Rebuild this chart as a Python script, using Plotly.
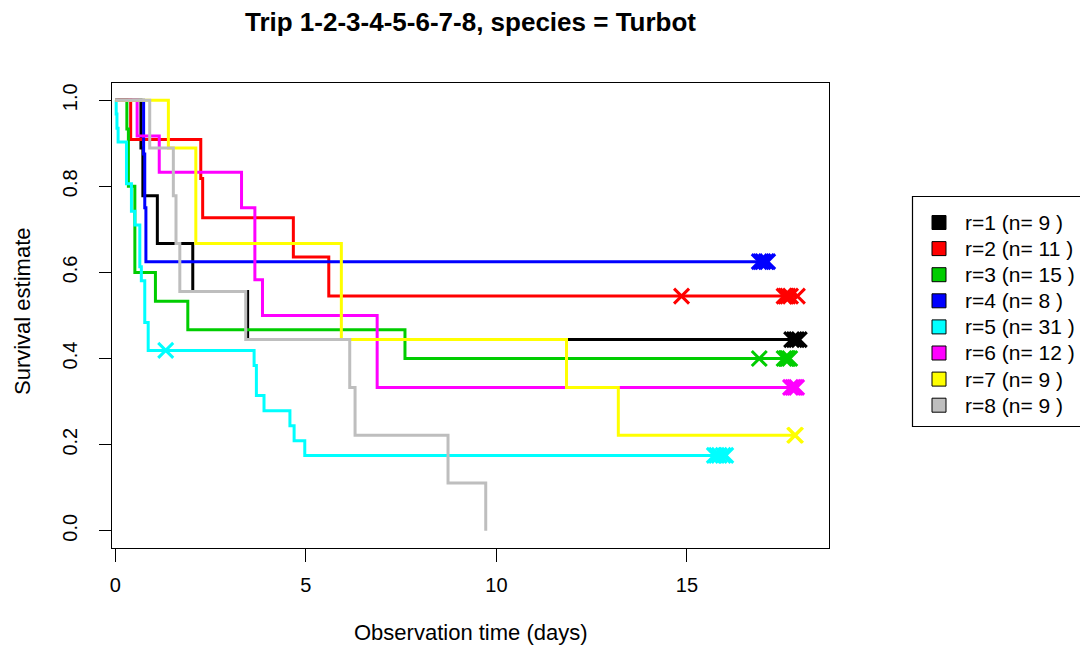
import plotly.graph_objects as go

# ---------------- data ----------------
group_labels = ["r=1 (n= 9 )", "r=2 (n= 11 )", "r=3 (n= 15 )", "r=4 (n= 8 )",
                "r=5 (n= 31 )", "r=6 (n= 12 )", "r=7 (n= 9 )", "r=8 (n= 9 )"]
group_colors = ["#000000", "#FF0000", "#00CD00", "#0000FF",
                "#00FFFF", "#FF00FF", "#FFFF00", "#BEBEBE"]

# event (death) times and survival estimate after each event
t1 = [0.67, 0.72, 1.10, 2.03, 3.47]
s1 = [0.889, 0.778, 0.667, 0.556, 0.444]
c1 = [17.75, 17.82, 17.88, 17.95]

t2 = [0.40, 2.24, 2.29, 4.67, 5.60]
s2 = [0.909, 0.818, 0.727, 0.636, 0.545]
c2 = [14.86, 17.55, 17.60, 17.65, 17.72, 17.90]

t3 = [0.30, 0.34, 0.51, 1.05, 1.90, 7.60]
s3 = [0.933, 0.800, 0.600, 0.533, 0.467, 0.400]
c3 = [16.90, 17.55, 17.60, 17.62, 17.65, 17.70]

t4 = [0.74, 0.77, 0.80]
s4 = [0.875, 0.750, 0.625]
c4 = [16.90, 16.95, 17.00, 17.08, 17.12]

t5 = [0.02, 0.04, 0.07, 0.29, 0.42, 0.51, 0.64, 0.68, 0.77, 0.86,
      3.64, 3.70, 3.90, 4.58, 4.69, 4.97]
s5 = [0.968, 0.935, 0.903, 0.806, 0.742, 0.710, 0.613, 0.581, 0.484, 0.419,
      0.384, 0.314, 0.279, 0.244, 0.209, 0.175]
c5 = [1.32, 15.72, 15.78, 15.85, 15.95, 16.02]

t6 = [0.57, 1.15, 3.31, 3.66, 3.86, 6.87]
s6 = [0.917, 0.833, 0.750, 0.583, 0.500, 0.333]
c6 = [17.72, 17.78, 17.83, 17.88]

t7 = [1.39, 2.11, 5.93, 11.84, 13.20]
s7 = [0.889, 0.667, 0.444, 0.333, 0.222]
c7 = [17.83, 17.85]

t8 = [0.90, 1.52, 1.59, 1.69, 3.42, 6.15, 6.29, 8.73, 9.72]
s8 = [0.889, 0.778, 0.667, 0.556, 0.444, 0.333, 0.222, 0.111, 0.0]
c8 = []

event_times = [t1, t2, t3, t4, t5, t6, t7, t8]
event_surv = [s1, s2, s3, s4, s5, s6, s7, s8]
censor_times = [c1, c2, c3, c4, c5, c6, c7, c8]

x_ticks = [0, 5, 10, 15]
y_ticks = [0.0, 0.2, 0.4, 0.6, 0.8, 1.0]
y_ticklabels = ["0.0", "0.2", "0.4", "0.6", "0.8", "1.0"]

title_text = "Trip 1-2-3-4-5-6-7-8, species = Turbot"
x_title = "Observation time (days)"
y_title = "Survival estimate"

# ---------------- figure ----------------
FONT = "Liberation Sans, Arial, sans-serif"
fig = go.Figure()


def surv_at(times, surv, t):
    val = 1.0
    for ti, si in zip(times, surv):
        if ti <= t:
            val = si
    return val


for times, surv, cens, col in zip(event_times, event_surv, censor_times, group_colors):
    end = max(cens) if cens else times[-1]
    xs = [0.0] + list(times)
    ys = [1.0] + list(surv)
    if end > xs[-1]:
        xs.append(end)
        ys.append(ys[-1])
    fig.add_trace(go.Scatter(x=xs, y=ys, mode="lines", line=dict(color=col, width=3, shape="hv"),
                             showlegend=False, hoverinfo="skip"))
    if cens:
        fig.add_trace(go.Scatter(x=cens, y=[surv_at(times, surv, c) for c in cens], mode="markers",
                                 marker=dict(symbol="x-thin", size=15, line=dict(color=col, width=3)),
                                 showlegend=False, hoverinfo="skip"))

# page offset (browser body margin) -> work in page pixels, convert to figure pixels
OFF = 8
W, H = 1088 - OFF, 648 - OFF
ml, mr, mt, mb = 112 - OFF, 259, 83 - OFF, 108 - OFF
pw, ph = W - ml - mr, H - mt - mb


def px2paper_x(px):
    return (px - OFF - ml) / pw


def px2paper_y(py):
    return (H - mb - (py - OFF)) / ph


# manual legend (R style box with filled squares)
row_h = 26.1
fig.add_shape(type="rect", xref="paper", yref="paper",
              x0=px2paper_x(912.5), x1=px2paper_x(1110),
              y0=px2paper_y(426.5), y1=px2paper_y(196.5),
              line=dict(color="black", width=1.2), fillcolor="white", layer="below")
for i, (lab, col) in enumerate(zip(group_labels, group_colors)):
    cy = 222.5 + i * row_h
    fig.add_shape(type="rect", xref="paper", yref="paper",
                  x0=px2paper_x(932), x1=px2paper_x(946),
                  y0=px2paper_y(cy + 7), y1=px2paper_y(cy - 7),
                  line=dict(color="black", width=1), fillcolor=col)
    fig.add_annotation(x=px2paper_x(963), y=px2paper_y(cy), xref="paper", yref="paper",
                       text=lab, showarrow=False, xanchor="left", yanchor="middle",
                       font=dict(family=FONT, size=21, color="black"))

# axis titles
fig.add_annotation(x=px2paper_x(470.5), y=px2paper_y(632), xref="paper", yref="paper", text=x_title,
                   showarrow=False, xanchor="center", yanchor="middle",
                   font=dict(family=FONT, size=22, color="black"))
fig.add_annotation(x=px2paper_x(22), y=px2paper_y(311), xref="paper", yref="paper", text=y_title,
                   showarrow=False, xanchor="center", yanchor="middle", textangle=-90,
                   font=dict(family=FONT, size=22, color="black"))

fig.update_layout(
    width=W, height=H,
    margin=dict(l=ml, r=mr, t=mt, b=mb),
    paper_bgcolor="white", plot_bgcolor="white",
    title=dict(text="<b>" + title_text + "</b>", x=px2paper_x(470.5), xref="paper",
               y=1 - (22 - OFF) / H, yref="container", xanchor="center", yanchor="middle",
               font=dict(family=FONT, size=26, color="black")),
    showlegend=False,
)
fig.update_xaxes(range=[-0.09, 18.73], tickvals=x_ticks, ticks="outside", ticklen=13, tickwidth=1.2,
                 tickcolor="black", showline=True, linecolor="black", linewidth=1.2, mirror=True,
                 showgrid=False, zeroline=False, ticklabelstandoff=6,
                 tickfont=dict(family=FONT, size=20, color="black"))
fig.update_yaxes(range=[-0.04, 1.04], tickvals=y_ticks, ticktext=y_ticklabels, ticks="outside",
                 ticklen=12, tickwidth=1.2, tickcolor="black", showline=True, linecolor="black",
                 linewidth=1.2, mirror=True, showgrid=False, zeroline=False, tickangle=-90,
                 ticklabelstandoff=14, tickfont=dict(family=FONT, size=20, color="black"))

fig.write_html("out.html")
